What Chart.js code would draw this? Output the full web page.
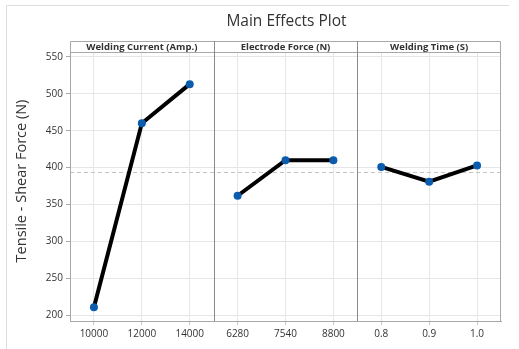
<!DOCTYPE html>
<html>
<head>
<meta charset="utf-8">
<script src="https://cdn.jsdelivr.net/npm/chart.js@4"></script>
<style>
  html, body { margin: 0; padding: 0; background: #ffffff; }
  #wrap { width: 519px; height: 349px; position: relative; }
</style>
</head>
<body>
<div id="wrap"><canvas id="c" width="519" height="349"></canvas></div>
<script>
// Factor names (panel headers)
const factors = ['Welding Current (Amp.)', 'Electrode Force (N)', 'Welding Time (S)'];
// Factor levels (x tick labels per panel)
const currentLevels = ['10000', '12000', '14000'];
const forceLevels = ['6280', '7540', '8800'];
const timeLevels = ['0.8', '0.9', '1.0'];
// Mean tensile-shear force at each level
const currentMeans = [211, 460, 513];
const forceMeans = [362, 410, 410];
const timeMeans = [401, 381, 403];
// Y axis tick labels
const yTicks = [200, 250, 300, 350, 400, 450, 500, 550];

const levelSets = [currentLevels, forceLevels, timeLevels];
const meanSets = [currentMeans, forceMeans, timeMeans];
const perPanel = 3;

// Each panel spans 3 units of a shared linear x scale; levels sit at the centres.
const datasets = meanSets.map((vals, p) => ({
  label: factors[p],
  data: vals.map((v, i) => ({ x: p * perPanel + i + 0.5, y: v })),
  showLine: true,
  borderColor: '#000000',
  borderWidth: 4,
  pointRadius: 4,
  pointHoverRadius: 4,
  pointBackgroundColor: '#0b5cad',
  pointBorderColor: '#0b5cad',
  pointBorderWidth: 0,
  tension: 0
}));

const allVals = meanSets.flat();
const grandMean = allVals.reduce((a, b) => a + b, 0) / allVals.length;
const xLabels = levelSets.flat();
const xTickValues = xLabels.map((_, i) => i + 0.5);

const HEADER_H = 11;

const decor = {
  id: 'decor',
  beforeDatasetsDraw(chart) {
    const { ctx, chartArea: a, scales: { y } } = chart;
    ctx.save();
    // grand mean reference line
    const ym = Math.round(y.getPixelForValue(grandMean)) + 0.5;
    ctx.strokeStyle = '#c4c4c4';
    ctx.lineWidth = 1;
    ctx.setLineDash([4, 3]);
    ctx.beginPath();
    ctx.moveTo(a.left, ym);
    ctx.lineTo(a.right, ym);
    ctx.stroke();
    ctx.restore();
  },
  afterDraw(chart) {
    const { ctx, chartArea: a, scales: { x } } = chart;
    ctx.save();
    // outer frame (top and left edges)
    ctx.strokeStyle = '#dedede';
    ctx.lineWidth = 1;
    ctx.beginPath();
    ctx.moveTo(6.5, 349);
    ctx.lineTo(6.5, 5.5);
    ctx.lineTo(509, 5.5);
    ctx.stroke();

    // title
    ctx.fillStyle = '#333333';
    ctx.font = '15.5px "Open Sans"';
    ctx.textAlign = 'center';
    ctx.textBaseline = 'middle';
    ctx.fillText('Main Effects Plot', (a.left + a.right) / 2 + 1, 22);

    // y axis title
    ctx.save();
    ctx.translate(22, 181);
    ctx.rotate(-Math.PI / 2);
    ctx.font = '14.5px "Open Sans"';
    ctx.fillStyle = '#333333';
    ctx.fillText('Tensile - Shear Force (N)', 0, 0);
    ctx.restore();

    const top = a.top - HEADER_H;
    const L = Math.round(a.left) + 0.5;
    const R = Math.round(a.right) - 0.5;
    // header strip + plot frame
    ctx.strokeStyle = '#a8a8a8';
    ctx.lineWidth = 1;
    ctx.beginPath();
    ctx.moveTo(L, Math.round(a.bottom));
    ctx.lineTo(L, top + 0.5);
    ctx.lineTo(R, top + 0.5);
    ctx.lineTo(R, Math.round(a.bottom) + 0.5);
    ctx.moveTo(L, Math.round(a.top) + 0.5);
    ctx.lineTo(R, Math.round(a.top) + 0.5);
    ctx.stroke();

    // panel separators
    ctx.strokeStyle = '#8a8a8a';
    for (let p = 1; p < factors.length; p++) {
      const px = Math.round(x.getPixelForValue(p * perPanel)) + 0.5;
      ctx.beginPath();
      ctx.moveTo(px, top);
      ctx.lineTo(px, a.bottom);
      ctx.stroke();
    }

    // panel headers
    ctx.fillStyle = '#333333';
    ctx.font = 'bold 9.5px "Open Sans"';
    ctx.textAlign = 'center';
    ctx.textBaseline = 'middle';
    factors.forEach((f, p) => {
      const cx = (x.getPixelForValue(p * perPanel) + x.getPixelForValue((p + 1) * perPanel)) / 2;
      ctx.fillText(f, cx, top + HEADER_H / 2 + 0.5);
    });
    ctx.restore();
  }
};

new Chart(document.getElementById('c'), {
  type: 'scatter',
  data: { datasets },
  options: {
    responsive: false,
    animation: false,
    events: [],
    layout: { padding: { top: 52, right: 18, left: 0, bottom: 0 } },
    plugins: { legend: { display: false }, tooltip: { enabled: false }, title: { display: false } },
    scales: {
      x: {
        type: 'linear',
        min: 0,
        max: factors.length * perPanel,
        afterBuildTicks: (s) => { s.ticks = xTickValues.map(v => ({ value: v })); },
        afterFit: (s) => { s.height = 28; },
        ticks: {
          autoSkip: false,
          maxRotation: 0,
          padding: 3,
          color: '#333333',
          font: { family: 'Open Sans', size: 10 },
          callback: (v) => xLabels[Math.round(v - 0.5)]
        },
        grid: { color: '#e6e6e6', lineWidth: 1, tickLength: 4, tickColor: '#c8c8c8' },
        border: { color: '#a8a8a8', width: 1 }
      },
      y: {
        type: 'linear',
        min: 192.5,
        max: 556.5,
        afterBuildTicks: (s) => { s.ticks = yTicks.map(v => ({ value: v })); },
        afterFit: (s) => { s.width = 70; },
        ticks: {
          padding: 3,
          color: '#333333',
          font: { family: 'Open Sans', size: 10 }
        },
        grid: { color: '#e6e6e6', lineWidth: 1, tickLength: 4, tickColor: '#a8a8a8' },
        border: { color: '#a8a8a8', width: 1 }
      }
    }
  },
  plugins: [decor]
});
</script>
</body>
</html>
